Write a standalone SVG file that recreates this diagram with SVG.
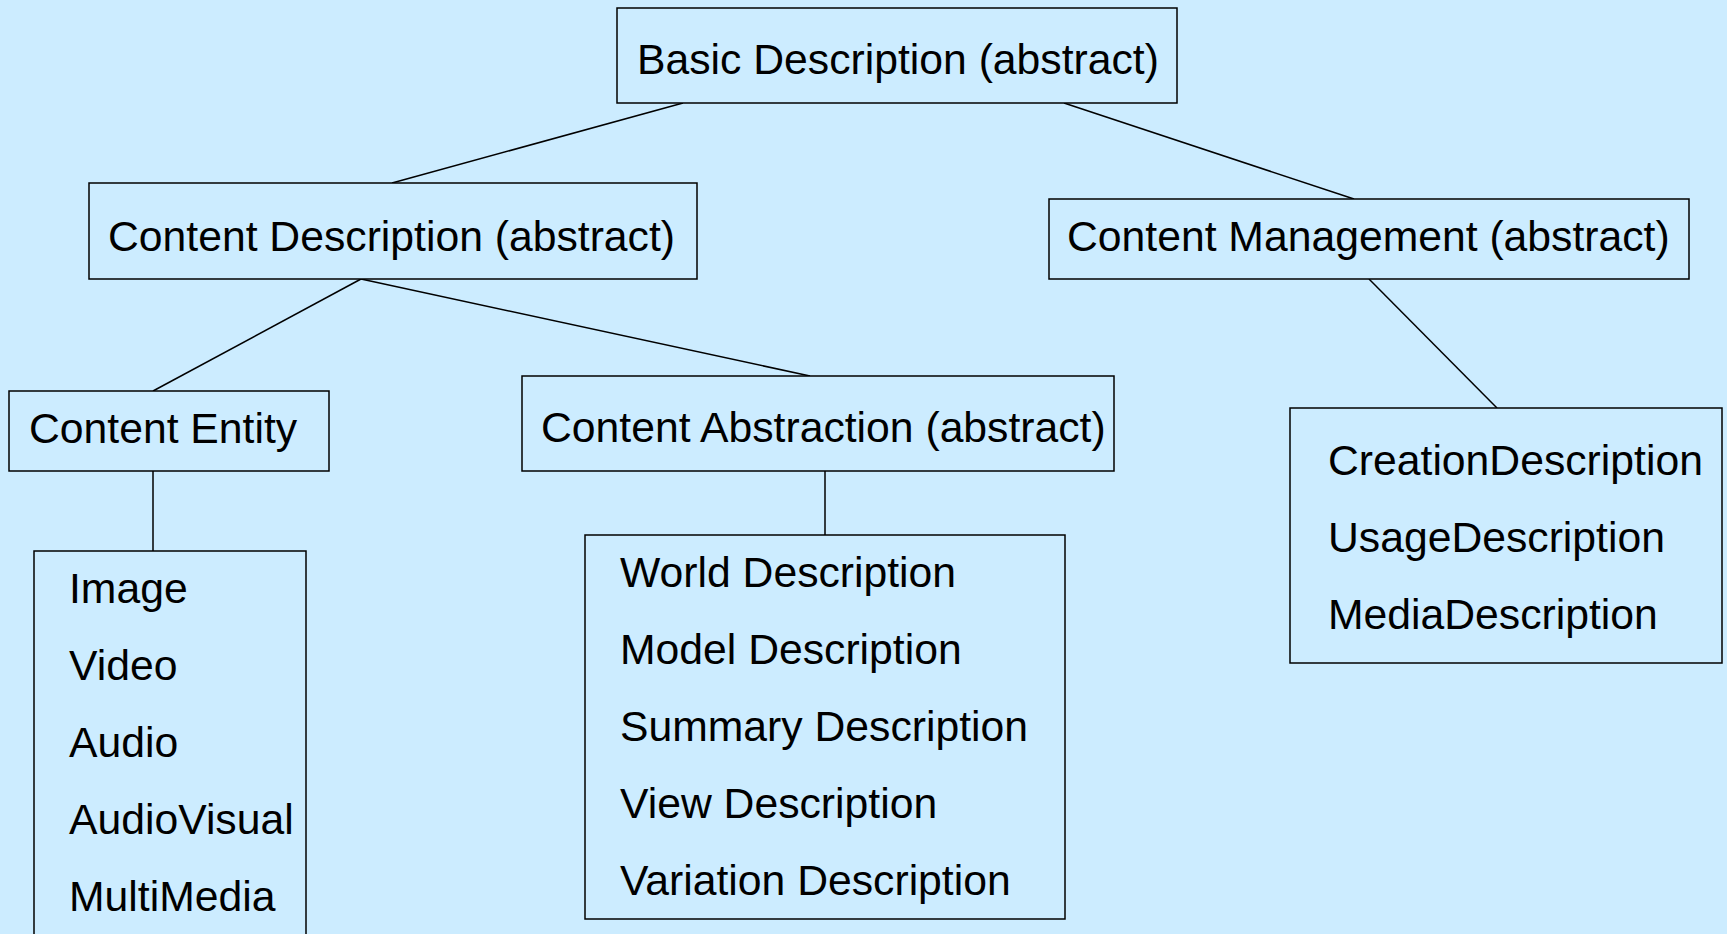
<svg xmlns="http://www.w3.org/2000/svg" width="1727" height="934" viewBox="0 0 1727 934">
<style>
.box{fill:#CCECFF;stroke:#000;stroke-width:1.5}
.t{font-family:"Liberation Sans",Arial,sans-serif;font-size:42.7px;fill:#000}
.c{stroke:#000;stroke-width:1.5;fill:none}
</style>
<rect x="0" y="0" width="1727" height="934" fill="#CCECFF"/>
<g id="connectors">
<line class="c" x1="683" y1="103" x2="392" y2="183"/>
<line class="c" x1="1064" y1="103" x2="1354" y2="199"/>
<line class="c" x1="361" y1="279" x2="153" y2="391"/>
<line class="c" x1="361" y1="279" x2="810" y2="376"/>
<line class="c" x1="1369" y1="279" x2="1497" y2="408"/>
<line class="c" x1="153" y1="471" x2="153" y2="551"/>
<line class="c" x1="825" y1="471" x2="825" y2="535"/>
</g>
<g id="basic">
<rect class="box" x="617" y="8" width="560" height="95"/>
<text class="t" x="637" y="74">Basic Description (abstract)</text>
</g>
<g id="content-description">
<rect class="box" x="89" y="183" width="608" height="96"/>
<text class="t" x="108" y="251">Content Description (abstract)</text>
</g>
<g id="content-management">
<rect class="box" x="1049" y="199" width="640" height="80"/>
<text class="t" x="1067" y="251">Content Management (abstract)</text>
</g>
<g id="content-entity">
<rect class="box" x="9" y="391" width="320" height="80"/>
<text class="t" x="29" y="443">Content Entity</text>
</g>
<g id="content-abstraction">
<rect class="box" x="522" y="376" width="592" height="95"/>
<text class="t" x="541" y="442">Content Abstraction (abstract)</text>
</g>
<g id="entity-list">
<rect class="box" x="34" y="551" width="272" height="400"/>
<text class="t" x="69" y="603">Image</text>
<text class="t" x="69" y="680">Video</text>
<text class="t" x="69" y="757">Audio</text>
<text class="t" x="69" y="834">AudioVisual</text>
<text class="t" x="69" y="911">MultiMedia</text>
</g>
<g id="abstraction-list">
<rect class="box" x="585" y="535" width="480" height="384"/>
<text class="t" x="620" y="587">World Description</text>
<text class="t" x="620" y="664">Model Description</text>
<text class="t" x="620" y="741">Summary Description</text>
<text class="t" x="620" y="818">View Description</text>
<text class="t" x="620" y="895">Variation Description</text>
</g>
<g id="management-list">
<rect class="box" x="1290" y="408" width="432" height="255"/>
<text class="t" x="1328" y="475">CreationDescription</text>
<text class="t" x="1328" y="552">UsageDescription</text>
<text class="t" x="1328" y="629">MediaDescription</text>
</g>
</svg>
